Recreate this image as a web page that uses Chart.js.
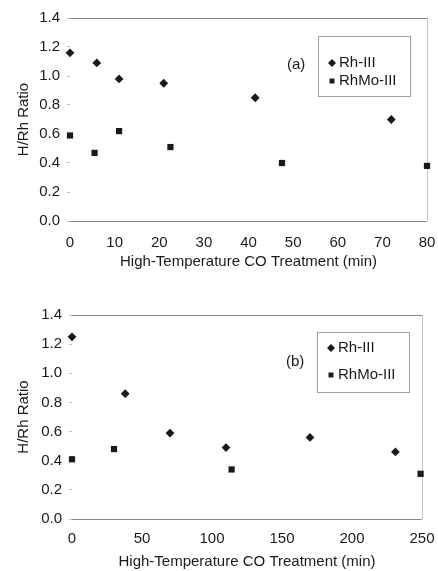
<!DOCTYPE html>
<html>
<head>
<meta charset="utf-8">
<script src="https://cdn.jsdelivr.net/npm/chart.js@4.4.0/dist/chart.umd.min.js"></script>
<style>
  body { margin: 0; background: #fff; }
  .panel { position: absolute; left: 0; width: 438px; }
</style>
</head>
<body>
<div class="panel" style="top:0; height:280px;"><canvas id="chartA"></canvas></div>
<div class="panel" style="top:280px; height:291px;"><canvas id="chartB"></canvas></div>
<script>
// Panel (a): H/Rh ratio vs CO treatment time
const timesRhA = [0, 6, 11, 21, 41.5, 72];
const ratioRhA = [1.16, 1.09, 0.98, 0.95, 0.85, 0.70];
const timesMoA = [0, 5.5, 11, 22.5, 47.5, 80];
const ratioMoA = [0.59, 0.47, 0.62, 0.51, 0.40, 0.38];

// Panel (b)
const timesRhB = [0, 38, 70, 110, 170, 231];
const ratioRhB = [1.25, 0.86, 0.59, 0.49, 0.56, 0.46];
const timesMoB = [0, 30, 114, 249];
const ratioMoB = [0.41, 0.48, 0.34, 0.31];

const seriesNames = ['Rh-III', 'RhMo-III'];
const yTicks = [0, 0.2, 0.4, 0.6, 0.8, 1.0, 1.2, 1.4];
const xTicksA = [0, 10, 20, 30, 40, 50, 60, 70, 80];
const xTicksB = [0, 50, 100, 150, 200, 250];

const FONT = 'Liberation Sans, Arial, Helvetica, sans-serif';
const INK = '#1a1a1a';

function toPoints(xs, ys) {
    return xs.map((x, i) => ({ x: x, y: ys[i] }));
}

// legend box + panel letter drawn inside the plot area
const insideLegend = {
    id: 'insideLegend',
    afterDraw(chart, args, opts) {
        const ctx = chart.ctx;
        const area = chart.chartArea;
        const boxRight = area.right - opts.rightGap;
        const boxLeft = boxRight - 92;
        const boxTop = area.top + opts.topGap;
        const boxBottom = boxTop + 60;
        ctx.save();
        ctx.strokeStyle = '#a0a0a0';
        ctx.lineWidth = 1;
        ctx.strokeRect(boxLeft + 0.5, boxTop + 0.5, boxRight - boxLeft, boxBottom - boxTop);

        ctx.font = '15px ' + FONT;
        ctx.fillStyle = INK;
        ctx.textBaseline = 'middle';
        chart.data.datasets.forEach((ds, i) => {
            const y = boxTop + opts.rowY[i];
            const mx = boxLeft + 14;
            Chart.helpers.drawPoint(ctx, {
                pointStyle: ds.pointStyle,
                radius: ds.pointStyle === 'rect' ? 3.5 : 4,
                borderWidth: 0
            }, mx, y);
            ctx.fillStyle = INK;
            ctx.fillText(ds.label, mx + 7, y);
        });

        ctx.fillText(opts.letter, boxLeft - 31, area.top + opts.letterY);
        ctx.restore();
    }
};

function makeChart(id, rh, mo, xMax, xTicks, pad, legendOpts) {
    const ctx = document.getElementById(id).getContext('2d');
    return new Chart(ctx, {
        type: 'scatter',
        data: {
            datasets: [{
                label: seriesNames[0],
                data: rh,
                pointStyle: 'rectRot',
                pointRadius: 4.4,
                backgroundColor: INK,
                borderColor: INK,
                borderWidth: 0,
                clip: false
            }, {
                label: seriesNames[1],
                data: mo,
                pointStyle: 'rect',
                pointRadius: 4.4,
                backgroundColor: INK,
                borderColor: INK,
                borderWidth: 0,
                clip: false
            }]
        },
        options: {
            responsive: true,
            maintainAspectRatio: false,
            animation: false,
            layout: { padding: pad },
            plugins: {
                legend: { display: false },
                tooltip: { enabled: false },
                insideLegend: legendOpts
            },
            scales: {
                x: {
                    type: 'linear',
                    min: 0,
                    max: xMax,
                    afterBuildTicks: s => { s.ticks = xTicks.map(v => ({ value: v })); },
                    afterFit: s => {
                        s.height = legendOpts.xHeight;
                        s.paddingLeft = 0;
                        s.paddingRight = 0;
                    },
                    border: { display: false },
                    grid: {
                        drawTicks: false,
                        lineWidth: 1,
                        color: c => (c.tick && c.tick.value === xMax) ? '#c4c4c4' : 'rgba(0,0,0,0)'
                    },
                    ticks: {
                        padding: legendOpts.xTickPad,
                        color: INK,
                        font: { family: FONT, size: 15 }
                    },
                    title: {
                        display: true,
                        text: 'High-Temperature CO Treatment (min)',
                        color: INK,
                        font: { family: FONT, size: 15 },
                        padding: { top: 0, bottom: legendOpts.titlePad }
                    }
                },
                y: {
                    min: 0,
                    max: 1.4,
                    afterBuildTicks: s => { s.ticks = yTicks.map(v => ({ value: v })); },
                    afterFit: s => {
                        s.width = legendOpts.yWidth;
                        s.paddingTop = 0;
                        s.paddingBottom = 0;
                    },
                    border: { display: false },
                    grid: {
                        drawTicks: true,
                        tickLength: 3,
                        tickColor: '#c0c0c0',
                        color: c => (c.tick && (c.tick.value === 0 || c.tick.value === 1.4)) ? '#8a8a8a' : 'rgba(0,0,0,0)'
                    },
                    ticks: {
                        padding: 7,
                        color: INK,
                        font: { family: FONT, size: 15 },
                        callback: v => v.toFixed(1)
                    },
                    title: {
                        display: true,
                        text: 'H/Rh Ratio',
                        color: INK,
                        font: { family: FONT, size: 15 },
                        padding: { top: 15, bottom: 0 }
                    }
                }
            }
        },
        plugins: [insideLegend]
    });
}

makeChart('chartA', toPoints(timesRhA, ratioRhA), toPoints(timesMoA, ratioMoA), 80, xTicksA,
    { top: 18, right: 11, bottom: 0, left: 0 },
    { rightGap: 17, topGap: 18, rowY: [27, 45], letter: '(a)', letterY: 47,
      xHeight: 59, yWidth: 70, titlePad: 9, xTickPad: 13 });

makeChart('chartB', toPoints(timesRhB, ratioRhB), toPoints(timesMoB, ratioMoB), 250, xTicksB,
    { top: 35, right: 16, bottom: 0, left: 0 },
    { rightGap: 13, topGap: 17, rowY: [16, 43], letter: '(b)', letterY: 47,
      xHeight: 52, yWidth: 72, titlePad: 0, xTickPad: 11 });
</script>
</body>
</html>
